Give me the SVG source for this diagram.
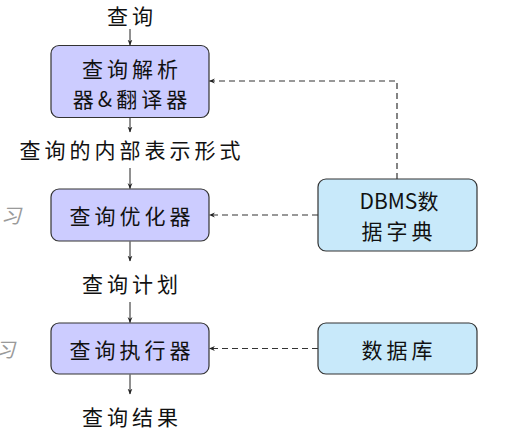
<svg xmlns="http://www.w3.org/2000/svg" width="512" height="430" viewBox="0 0 512 430">
<defs>
<marker id="ah" viewBox="0 0 10 10" refX="9" refY="5" markerWidth="6" markerHeight="6" orient="auto" markerUnits="userSpaceOnUse">
<path d="M0,1 L10,5 L0,9 L3,5 Z" fill="#222"/>
</marker>
<style>
.t{font-family:"Noto Sans CJK SC","Noto Sans",sans-serif;font-size:21px;fill:#111;text-anchor:middle;letter-spacing:4px;dominant-baseline:central}
.p{fill:#ccccff;stroke:#333;stroke-width:1.2}
.b{fill:#c8e9fa;stroke:#333;stroke-width:1.2}
.a{stroke:#222;stroke-width:1;fill:none;marker-end:url(#ah)}
.d{stroke:#333;stroke-width:1.2;fill:none;stroke-dasharray:6 4;marker-end:url(#ah)}
.g{font-family:"Noto Sans CJK SC",sans-serif;font-size:20px;fill:#9a9a9a;font-style:italic;dominant-baseline:central}
</style>
</defs>
<rect width="512" height="430" fill="#fff"/>
<text class="g" x="1" y="214">习</text>
<text class="g" x="-5" y="348">习</text>
<g id="labels">
<text class="t" x="132" y="15">查询</text>
<text class="t" x="132" y="149">查询的内部表示形式</text>
<text class="t" x="132" y="283">查询计划</text>
<text class="t" x="132" y="416">查询结果</text>
</g>
<g id="parser">
<rect class="p" x="51" y="45.5" width="158" height="72" rx="8"/>
<text class="t" x="132" y="67.5">查询解析</text>
<text class="t" x="132" y="97.5">器&amp;翻译器</text>
</g>
<g id="optimizer">
<rect class="p" x="51" y="189" width="158" height="52" rx="8"/>
<text class="t" x="132" y="215">查询优化器</text>
</g>
<g id="executor">
<rect class="p" x="51" y="323" width="158" height="51" rx="8"/>
<text class="t" x="132" y="348.5">查询执行器</text>
</g>
<g id="dict">
<rect class="b" x="318" y="179" width="159" height="72" rx="8"/>
<text class="t" x="399" y="200" style="letter-spacing:0px">DBMS数</text>
<text class="t" x="399" y="230">据字典</text>
</g>
<g id="db">
<rect class="b" x="318" y="323" width="159" height="51" rx="8"/>
<text class="t" x="399" y="348.5">数据库</text>
</g>
<g id="connectors">
<line class="a" x1="130" y1="29" x2="130" y2="45"/>
<line class="a" x1="130" y1="118" x2="130" y2="132"/>
<line class="a" x1="130" y1="168" x2="130" y2="188.5"/>
<line class="a" x1="130" y1="241.5" x2="130" y2="261"/>
<line class="a" x1="130" y1="302" x2="130" y2="322.5"/>
<line class="a" x1="130" y1="374.5" x2="130" y2="394"/>
<path class="d" d="M397,179 V81 H209.5"/>
<path class="d" d="M318,215 H209.5"/>
<path class="d" d="M318,348.5 H209.5"/>
</g>
</svg>
